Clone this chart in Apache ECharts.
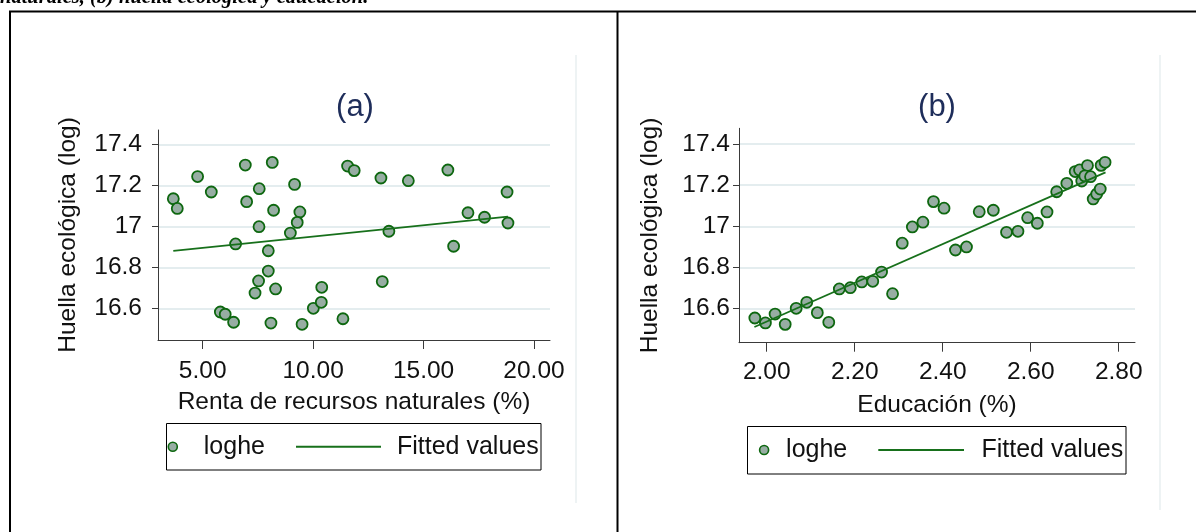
<!DOCTYPE html>
<html>
<head>
<meta charset="utf-8">
<script src="https://cdn.jsdelivr.net/npm/echarts@6/dist/echarts.min.js"></script>
<style>
  html, body { margin: 0; padding: 0; background: #ffffff; }
  #chart { width: 1196px; height: 532px; }
</style>
</head>
<body>
<div id="chart"></div>
<script>
// Panel (a): natural resource rents vs ecological footprint (log)
const rentaX = [3.67, 3.85, 4.77, 5.39, 6.93, 8.15, 7.56, 6.99, 8.21, 9.16, 9.40, 9.28, 7.55, 8.97,
  6.49, 7.97, 7.97, 7.53, 7.37, 8.30, 5.80, 6.02, 6.40, 8.09, 9.50, 10.01, 10.37, 10.39, 11.35,
  11.56, 11.86, 13.07, 14.31, 16.10, 13.13, 13.43, 16.36, 17.01, 17.76, 18.78, 18.82];
const rentaY = [17.135, 17.088, 17.243, 17.168, 17.299, 17.312, 17.184, 17.121, 17.079, 17.205,
  17.071, 17.020, 16.999, 16.968, 16.915, 16.882, 16.783, 16.735, 16.676, 16.696, 16.584, 16.573,
  16.534, 16.530, 16.524, 16.602, 16.631, 16.704, 16.551, 17.294, 17.272, 17.236, 17.223, 17.275,
  16.732, 16.977, 16.904, 17.067, 17.045, 17.168, 17.017];
const rentaFitX = [3.67, 18.82];
const rentaFitY = [16.881, 17.048];

// Panel (b): education vs ecological footprint (log)
const educX = [1.973, 1.997, 2.019, 2.042, 2.067, 2.091, 2.115, 2.141, 2.165, 2.190, 2.216, 2.241,
  2.261, 2.286, 2.308, 2.331, 2.355, 2.379, 2.403, 2.429, 2.454, 2.483, 2.515, 2.545, 2.571, 2.593,
  2.615, 2.637, 2.659, 2.682, 2.701, 2.711, 2.729, 2.716, 2.723, 2.736, 2.742, 2.750, 2.758, 2.760, 2.769];
const educY = [16.555, 16.531, 16.574, 16.524, 16.602, 16.631, 16.581, 16.534, 16.696, 16.702,
  16.730, 16.733, 16.778, 16.673, 16.918, 16.997, 17.020, 17.120, 17.088, 16.885, 16.900, 17.071,
  17.078, 16.971, 16.976, 17.042, 17.015, 17.070, 17.168, 17.209, 17.266, 17.274, 17.295, 17.220,
  17.245, 17.241, 17.133, 17.157, 17.181, 17.296, 17.311];
const educFitX = [1.972, 2.770];
const educFitY = [16.511, 17.262];

// Tick values
const yTicks = [16.6, 16.8, 17.0, 17.2, 17.4];
const rentaTicks = [5, 10, 15, 20];
const educTicks = [2.0, 2.2, 2.4, 2.6, 2.8];

const pairs = (xs, ys) => xs.map((x, i) => [x, ys[i]]);

const FONT = 'Liberation Sans, Arial, sans-serif';
const TXT = '#111111';
const AXIS = '#3a3a3a';
const GRID = '#e4edef';
const MARK_FILL = '#97ada3';
const MARK_EDGE = '#0d670f';
const FIT = '#17701b';

function yAxisOf(gridIndex, min, max, labelMargin, nameGap) {
  return {
    type: 'value', gridIndex, min, max,
    name: 'Huella ecológica (log)', nameLocation: 'middle', nameGap,
    nameTextStyle: { fontFamily: FONT, fontSize: 24.5, color: TXT },
    axisLine: { show: true, lineStyle: { color: AXIS, width: 1 } },
    axisTick: { show: true, length: 6, customValues: yTicks, lineStyle: { color: AXIS } },
    axisLabel: {
      customValues: yTicks, margin: labelMargin,
      fontFamily: FONT, fontSize: 24.5, color: TXT,
      formatter: v => (Math.abs(v - 17) < 1e-9 ? '17' : v.toFixed(1))
    },
    splitLine: { show: true, lineStyle: { color: GRID, width: 2 } }
  };
}

function xAxisOf(gridIndex, min, max, ticks, digits, title, labelMargin, nameGap) {
  return {
    type: 'value', gridIndex, min, max,
    name: title, nameLocation: 'middle', nameGap,
    nameTextStyle: { fontFamily: FONT, fontSize: 24.5, color: TXT },
    axisLine: { show: true, onZero: false, lineStyle: { color: AXIS, width: 1 } },
    axisTick: { show: true, length: 9, customValues: ticks, lineStyle: { color: AXIS } },
    axisLabel: {
      customValues: ticks, margin: labelMargin,
      fontFamily: FONT, fontSize: 24.5, color: TXT,
      formatter: v => v.toFixed(digits)
    },
    splitLine: { show: false }
  };
}

function scatterSeries(idx, data) {
  return {
    name: 'loghe', type: 'scatter', xAxisIndex: idx, yAxisIndex: idx,
    data, symbol: 'circle', symbolSize: 11, z: 2,
    itemStyle: { color: MARK_FILL, borderColor: MARK_EDGE, borderWidth: 1.8, opacity: 1 },
    emphasis: { disabled: true }
  };
}

function fitSeries(idx, data) {
  return {
    name: 'Fitted values', type: 'line', xAxisIndex: idx, yAxisIndex: idx,
    data, symbol: 'none', z: 3,
    lineStyle: { color: FIT, width: 1.8 },
    itemStyle: { color: FIT },
    emphasis: { disabled: true }
  };
}

function legendPair(cy, markerLeft, textGap1, lineLeft, lineLen, textGap2) {
  const common = {
    orient: 'horizontal', padding: 0, selectedMode: false,
    textStyle: { fontFamily: FONT, fontSize: 25, color: TXT }
  };
  return [
    Object.assign({}, common, {
      data: [{ name: 'loghe', icon: 'circle' }], left: markerLeft, top: cy - 12.5,
      itemWidth: 9, itemHeight: 9,
      itemStyle: { color: MARK_FILL, borderColor: MARK_EDGE, borderWidth: 1.6 },
      textStyle: Object.assign({}, common.textStyle, { padding: [0, 0, 0, textGap1] })
    }),
    Object.assign({}, common, {
      data: [{ name: 'Fitted values', icon: 'rect' }], left: lineLeft, top: cy - 12.5,
      itemWidth: lineLen, itemHeight: 2,
      itemStyle: { color: FIT, borderWidth: 0 },
      textStyle: Object.assign({}, common.textStyle, { padding: [0, 0, 0, textGap2] })
    })
  ];
}

const chart = echarts.init(document.getElementById('chart'), null, { renderer: 'canvas' });

const option = {
  backgroundColor: '#ffffff',
  animation: false,
  grid: [
    { left: 158, top: 130, width: 392, height: 210, containLabel: false },
    { left: 739, top: 128.3, width: 396, height: 214.4, containLabel: false }
  ],
  xAxis: [
    xAxisOf(0, 2.977, 20.724, rentaTicks, 2, 'Renta de recursos naturales (%)', 18.5, 49.5),
    xAxisOf(1, 1.937, 2.837, educTicks, 2, 'Educación (%)', 17, 50)
  ],
  yAxis: [
    yAxisOf(0, 16.4477, 17.4696, 16, 77),
    yAxisOf(1, 16.435, 17.476, 9, 76)
  ],
  legend: [].concat(
    legendPair(446.7, 167.5, 21.5, 296, 85, 11),
    legendPair(450, 758.8, 12.5, 878.3, 85.7, 12.5)
  ),
  series: [
    scatterSeries(0, pairs(rentaX, rentaY)),
    fitSeries(0, pairs(rentaFitX, rentaFitY)),
    scatterSeries(1, pairs(educX, educY)),
    fitSeries(1, pairs(educFitX, educFitY))
  ],
  graphic: [
    // caption line partly cut off at the top
    { type: 'text', x: 0, y: -12,
      style: { text: 'naturales, (b) huella ecológica y educación.', fill: '#000',
        font: 'italic bold 20.5px "Liberation Serif", "Times New Roman", serif',
        textVerticalAlign: 'top' } },
    // table frame
    { type: 'line', shape: { x1: 9, y1: 11.5, x2: 1196, y2: 11.5 }, style: { stroke: '#000', lineWidth: 2 } },
    { type: 'line', shape: { x1: 10, y1: 11, x2: 10, y2: 532 }, style: { stroke: '#000', lineWidth: 2 } },
    { type: 'line', shape: { x1: 617.5, y1: 11, x2: 617.5, y2: 532 }, style: { stroke: '#000', lineWidth: 2 } },
    // faint outer edges of the graph regions
    { type: 'line', shape: { x1: 576, y1: 55, x2: 576, y2: 503 }, style: { stroke: '#e8eff0', lineWidth: 1.5 } },
    { type: 'line', shape: { x1: 1160, y1: 55, x2: 1160, y2: 510 }, style: { stroke: '#e8eff0', lineWidth: 1.5 } },
    // panel titles
    { type: 'text', x: 355, y: 107,
      style: { text: '(a)', fill: '#1e2d5a', font: '31px "Liberation Sans", Arial, sans-serif',
        textAlign: 'center', textVerticalAlign: 'middle' } },
    { type: 'text', x: 937, y: 107,
      style: { text: '(b)', fill: '#1e2d5a', font: '31px "Liberation Sans", Arial, sans-serif',
        textAlign: 'center', textVerticalAlign: 'middle' } },
    // legend boxes
    { type: 'rect', shape: { x: 166.5, y: 423.5, width: 374.5, height: 46.5 },
      style: { fill: 'none', stroke: '#000', lineWidth: 1 }, z: 0 },
    { type: 'rect', shape: { x: 747.5, y: 426.5, width: 378.5, height: 47.5 },
      style: { fill: 'none', stroke: '#000', lineWidth: 1 }, z: 0 }
  ]
};

chart.setOption(option);
</script>
</body>
</html>
